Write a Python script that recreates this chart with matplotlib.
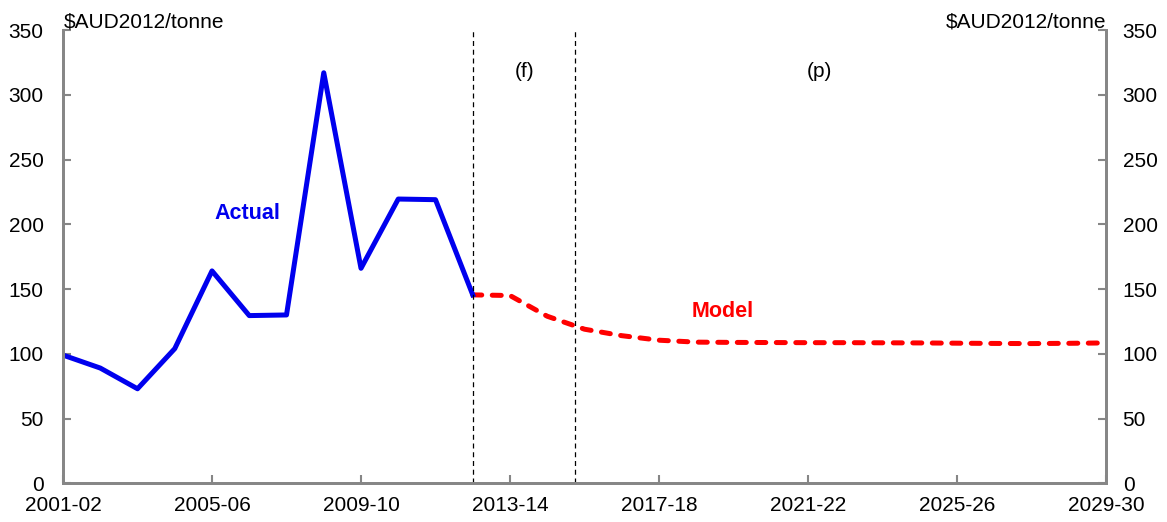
import numpy as np
import matplotlib.pyplot as plt

plt.rcParams['font.family'] = ['Liberation Sans', 'DejaVu Sans']

# financial years 2001-02 .. 2029-30
years = ['%d-%02d' % (y, (y + 1) % 100) for y in range(2001, 2030)]

actual = [99, 89, 73, 104, 164, 129.5, 130, 317, 166, 219.5, 219, 145.5]

model_start = 11  # 2012-13
model = [145.5, 145, 129, 119, 114, 110.5, 109, 108.8, 108.7, 108.6, 108.6,
         108.5, 108.4, 108.2, 108, 107.9, 108.1, 108.4]

forecast_line = 11      # start of (f)
projection_line = 13.75  # start of (p)

fig = plt.figure(figsize=(11.67, 5.22), dpi=100)
ax = fig.add_axes([0.054, 0.0741, 0.8937, 0.8684])

x_act = np.arange(len(actual))
x_mod = np.arange(model_start, model_start + len(model))

ax.plot(x_mod, model, color='red', linewidth=3.6, dashes=(1.8, 2.1),
        dash_capstyle='round')
ax.plot(x_act, actual, color='#0000ee', linewidth=3.6)

ax.axvline(forecast_line, color='black', linewidth=0.9, dashes=(4, 3))
ax.axvline(projection_line, color='black', linewidth=0.9, dashes=(4, 3))

ax.set_xlim(0, len(years) - 1)
ax.set_ylim(0, 350)
ticks = np.arange(0, len(years), 4)
ax.set_xticks(ticks)
ax.set_xticklabels([years[i] for i in ticks])
ax.set_yticks(np.arange(0, 351, 50))

ax2 = ax.twinx()
ax2.set_ylim(0, 350)
ax2.set_yticks(np.arange(0, 351, 50))

for a in (ax, ax2):
    a.spines['top'].set_visible(False)
    for s in ('left', 'right', 'bottom'):
        a.spines[s].set_color('#868686')
        a.spines[s].set_linewidth(2)
    a.tick_params(direction='in', length=6, width=1.5, color='#868686',
                  labelsize=15)
ax.tick_params(axis='y', pad=14)
ax2.tick_params(axis='y', pad=12)
ax.tick_params(axis='x', pad=9)

fig.text(0.055, 0.958, '$AUD2012/tonne', fontsize=15, ha='left', va='center')
fig.text(0.9477, 0.958, '$AUD2012/tonne', fontsize=15, ha='right', va='center')

ax.text(12.4, 318, '(f)', fontsize=15, ha='center', va='center')
ax.text(20.3, 318, '(p)', fontsize=15, ha='center', va='center')
ax.text(4.95, 208, 'Actual', fontsize=15.5, fontweight='bold', color='#0000ee',
        ha='center', va='center')
ax.text(17.7, 133, 'Model', fontsize=15.5, fontweight='bold', color='red',
        ha='center', va='center')

fig.savefig('out.png', dpi=100)
